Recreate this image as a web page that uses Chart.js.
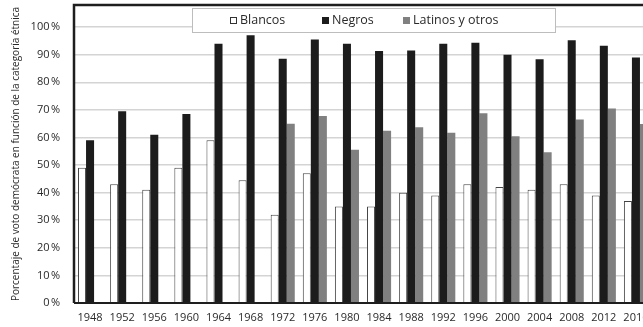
<!DOCTYPE html>
<html><head><meta charset="utf-8">
<script src="https://cdn.jsdelivr.net/npm/chart.js@4/dist/chart.umd.min.js"></script>
<style>html,body{margin:0;padding:0;overflow:hidden;background:#fff}
#wrap{width:660px;height:327px;position:relative}</style>
</head><body><div id="wrap"><canvas id="c" width="660" height="327"></canvas></div>
<script>
const years = ['1948','1952','1956','1960','1964','1968','1972','1976','1980','1984','1988','1992','1996','2000','2004','2008','2012','2016'];
const blancos = [49,43,41,49,59,44.5,32,47,35,35,40,39,43,42,41,43,39,37];
const negros = [59,69.5,61,68.5,94,97,88.5,95.5,94,91.3,91.5,94,94.3,90,88.3,95.2,93.2,89];
const latinos = [null,null,null,null,null,null,65,67.8,55.5,62.4,63.7,61.7,68.8,60.4,54.6,66.5,70.5,64.9];
const yTickValues = [0,10,20,30,40,50,60,70,80,90,100];
const seriesNames = ['Blancos','Negros','Latinos y otros'];
const yTitle = 'Porcentaje de voto demócrata en función de la categoría étnica';

const FONT = '"Open Sans", "Noto Sans", sans-serif';
const colors = {white:'#ffffff', black:'#1c1c1c', gray:'#808080', text:'#2a2a2a'};

const framePlugin = {
  id: 'frame',
  afterDatasetsDraw(chart) {
    const {ctx, chartArea: a} = chart;
    ctx.save();
    ctx.strokeStyle = '#1e1e1e';
    ctx.lineWidth = 2.5;
    ctx.beginPath();
    ctx.moveTo(a.left, a.bottom);
    ctx.lineTo(a.left, a.top);
    ctx.lineTo(a.right + 10, a.top);
    ctx.stroke();
    ctx.lineWidth = 2;
    ctx.beginPath();
    ctx.moveTo(a.left, a.bottom);
    ctx.lineTo(a.right + 10, a.bottom);
    ctx.stroke();
    ctx.restore();
  }
};

const legendPlugin = {
  id: 'boxLegend',
  afterDraw(chart) {
    const {ctx, chartArea: a} = chart;
    const bx = a.left + 118, by = a.top + 3, bw = 363, bh = 24;
    ctx.save();
    ctx.fillStyle = '#fff';
    ctx.fillRect(bx, by, bw, bh);
    ctx.strokeStyle = '#bdbdbd';
    ctx.lineWidth = 1;
    ctx.strokeRect(bx + 0.5, by + 0.5, bw, bh);
    const fills = [colors.white, colors.black, colors.gray];
    const xs = [bx + 38, bx + 130, bx + 211];
    ctx.font = '12.5px ' + FONT;
    ctx.textBaseline = 'middle';
    seriesNames.forEach((n, i) => {
      const sx = xs[i], sy = by + 9;
      ctx.fillStyle = fills[i];
      ctx.fillRect(sx, sy, 7, 7);
      if (i === 0) { ctx.strokeStyle = '#333'; ctx.lineWidth = 1; ctx.strokeRect(sx + 0.5, sy + 0.5, 6, 6); }
      ctx.fillStyle = colors.text;
      ctx.fillText(n, sx + 10, by + 12.5);
    });
    ctx.restore();
  }
};

new Chart(document.getElementById('c'), {
  type: 'bar',
  data: {
    labels: years,
    datasets: [
      {label: seriesNames[0], data: blancos, backgroundColor: colors.white, borderColor: '#444', borderWidth: 1},
      {label: seriesNames[1], data: negros, backgroundColor: colors.black, borderWidth: 0},
      {label: seriesNames[2], data: latinos, backgroundColor: colors.gray, borderWidth: 0}
    ]
  },
  options: {
    responsive: false,
    animation: false,
    devicePixelRatio: 1,
    layout: {padding: {left: 0, top: 5, right: 8, bottom: 0}},
    datasets: {bar: {categoryPercentage: 0.75, barPercentage: 1.0}},
    plugins: {legend: {display: false}, tooltip: {enabled: false}},
    scales: {
      x: {
        grid: {display: false},
        border: {display: false},
        ticks: {font: {family: FONT, size: 11}, color: colors.text, maxRotation: 0, autoSkip: false, padding: 0},
        afterFit(s) { s.height = 24; s.paddingLeft = 0; s.paddingRight = 0; }
      },
      y: {
        min: 0, max: 108,
        afterBuildTicks(s) { s.ticks = yTickValues.map(v => ({value: v})); },
        ticks: {font: {family: FONT, size: 11}, color: colors.text, padding: 14,
          callback: v => v + '\u202F%'},
        grid: {color: '#d4d4d4', lineWidth: 1.5, drawTicks: false},
        border: {display: false},
        title: {display: true, text: yTitle, font: {family: FONT, size: 10}, color: colors.text, padding: {top: 10, bottom: 0}},
        afterFit(s) { s.width = 74; s.paddingTop = 0; s.paddingBottom = 0; }
      }
    }
  },
  plugins: [framePlugin, legendPlugin]
});
</script></body></html>
